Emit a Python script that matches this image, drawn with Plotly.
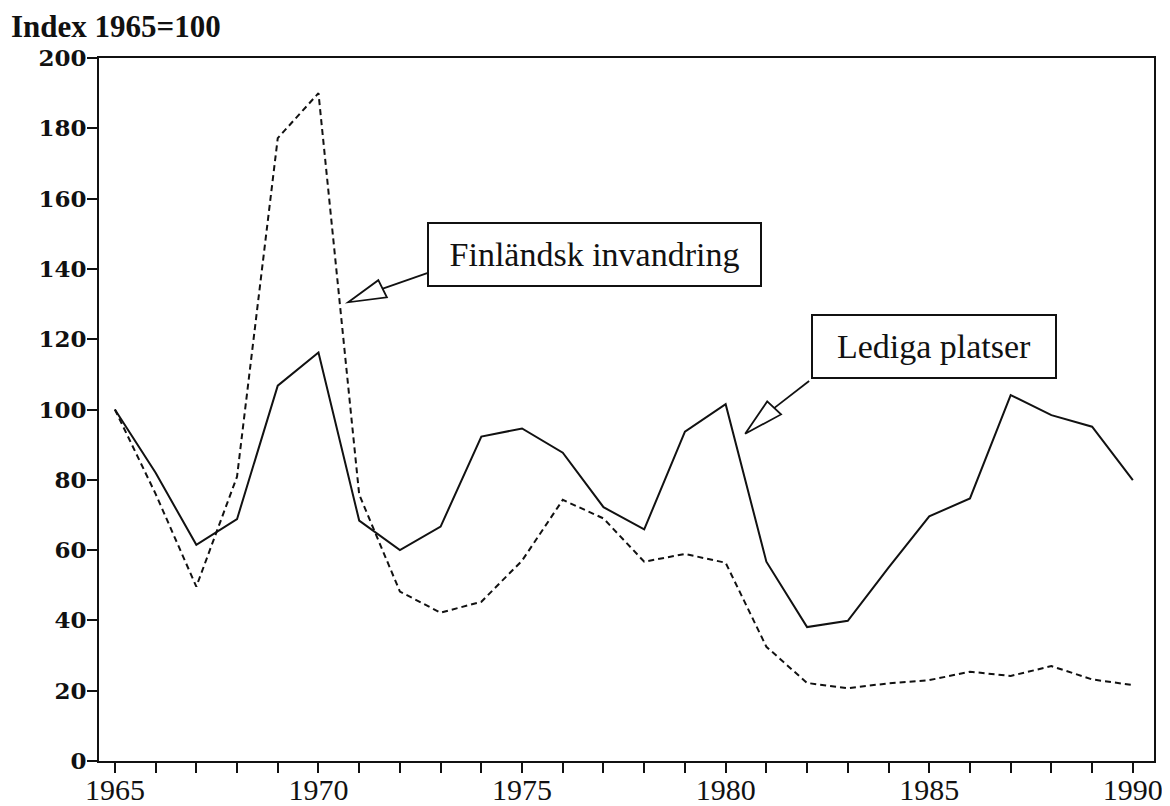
import plotly.graph_objects as go

years = list(range(1965, 1991))
lediga_platser = [100, 82, 61.5, 68.8, 106.8, 116.2, 68.4, 60.0, 66.7, 92.3,
                  94.6, 87.7, 72.2, 65.9, 93.7, 101.5, 56.7, 38.1, 39.9, 55.0,
                  69.6, 74.7, 104.1, 98.4, 95.1, 79.9]
finlandsk_invandring = [100, 76, 49.6, 80.9, 177.2, 190.0, 75.8, 48.2, 42.2, 45.3,
                        57.0, 74.3, 69.0, 56.7, 58.9, 56.4, 32.5, 22.2, 20.7, 22.1,
                        23.0, 25.4, 24.2, 27.0, 23.2, 21.6]
x_tick_labels = ["1965", "1970", "1975", "1980", "1985", "1990"]
y_tick_values = list(range(0, 201, 20))

label_fin = "Finländsk invandring"
label_led = "Lediga platser"
y_title = "Index 1965=100"

INK = "#111111"

fig = go.Figure()
fig.add_trace(go.Scatter(x=years, y=finlandsk_invandring, mode="lines",
                         line=dict(color=INK, width=2, dash="6px,4px"),
                         name=label_fin, showlegend=False))
fig.add_trace(go.Scatter(x=years, y=lediga_platser, mode="lines",
                         line=dict(color=INK, width=2),
                         name=label_led, showlegend=False))

# callout boxes
fig.add_annotation(x=1976.78, y=144.1, xref="x", yref="y", text=label_fin,
                   showarrow=False, font=dict(family="Liberation Serif", size=34, color=INK),
                   bordercolor=INK, borderwidth=2, borderpad=0, bgcolor="white",
                   width=331, height=61)
fig.add_annotation(x=1985.12, y=117.9, xref="x", yref="y", text=label_led,
                   showarrow=False, font=dict(family="Liberation Serif", size=34, color=INK),
                   bordercolor=INK, borderwidth=2, borderpad=0, bgcolor="white",
                   width=242, height=61)

# hollow callout arrows (tip, base1, base2, shaft start, shaft end)
callouts = [
    dict(tip=(1970.73, 130.5), b1=(1971.47, 136.8), b2=(1971.68, 131.9),
         s0=(1971.58, 134.4), s1=(1972.67, 138.8)),
    dict(tip=(1980.48, 93.1), b1=(1981.02, 102.3), b2=(1981.36, 98.6),
         s0=(1981.19, 100.4), s1=(1982.05, 108.1)),
]
for c in callouts:
    path = "M {},{} L {},{} L {},{} Z".format(c["tip"][0], c["tip"][1], c["b1"][0], c["b1"][1],
                                             c["b2"][0], c["b2"][1])
    fig.add_shape(type="path", path=path, xref="x", yref="y",
                  line=dict(color=INK, width=1.8), fillcolor="white")
    fig.add_shape(type="line", x0=c["s0"][0], y0=c["s0"][1], x1=c["s1"][0], y1=c["s1"][1],
                  xref="x", yref="y", line=dict(color=INK, width=1.8))

fig.add_annotation(x=-0.085, y=1.0455, xref="paper", yref="paper", text=y_title,
                   showarrow=False, xanchor="left", yanchor="middle",
                   font=dict(family="Liberation Serif", size=31, color=INK, weight="bold"))

fig.update_xaxes(range=[1964.61, 1990.52], tickmode="array",
                 tickvals=[int(t) for t in x_tick_labels], ticktext=x_tick_labels,
                 ticks="outside", ticklen=10, tickwidth=2, tickcolor=INK,
                 minor=dict(dtick=1, tick0=1965, ticks="outside", ticklen=10, tickwidth=2, tickcolor=INK),
                 showline=True, linewidth=2, linecolor=INK, mirror=True,
                 showgrid=False, zeroline=False, automargin=False, ticklabelstandoff=-9,
                 tickfont=dict(family="Liberation Serif", size=30, color=INK))
fig.update_yaxes(range=[0, 200], tickmode="array", tickvals=y_tick_values,
                 ticks="outside", ticklen=10, tickwidth=2, tickcolor=INK,
                 showline=True, linewidth=2, linecolor=INK, mirror=True,
                 showgrid=False, zeroline=False, automargin=False, ticklabelstandoff=-4,
                 tickfont=dict(family="DejaVu Serif", size=23, color=INK, weight="bold"))

fig.update_layout(width=1162, height=798, plot_bgcolor="white", paper_bgcolor="white",
                  margin=dict(l=91, r=16, t=50, b=45), showlegend=False)

fig.write_html("out.html")
